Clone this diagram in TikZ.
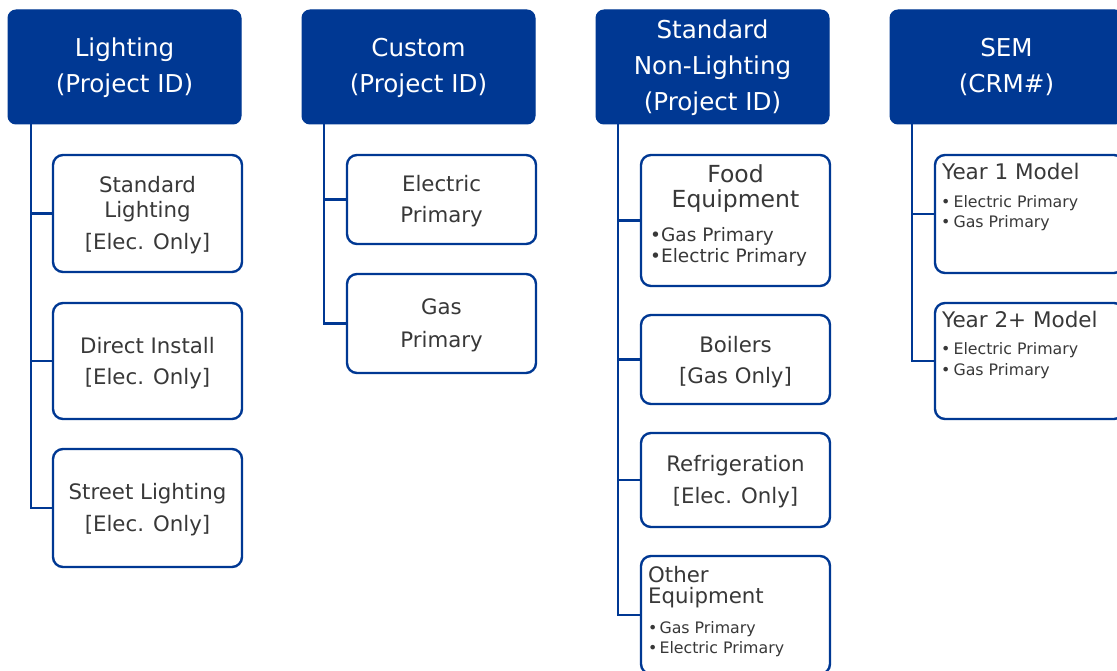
\documentclass[tikz,border=0pt]{standalone}
\usepackage{fontspec}
\setmainfont{DejaVu Sans}
\usetikzlibrary{fit}
\definecolor{navy}{HTML}{003893}
\definecolor{ink}{HTML}{383838}
\tikzset{
  hdr/.style={draw=navy, fill=navy, rounded corners=8pt, line width=1pt, inner sep=0pt},
  kid/.style={draw=navy, fill=white, rounded corners=10pt, line width=2.4pt, inner sep=0pt},
  link/.style={draw=navy, line width=2.6pt},
  ht/.style={text=white, inner sep=0pt, anchor=base, font=\fontsize{24.6}{28}\selectfont},
  ct/.style={text=ink, inner sep=0pt, anchor=base, font=\fontsize{21.3}{24}\selectfont},
  lt/.style={text=ink, inner sep=0pt, anchor=base west, font=\fontsize{21.3}{24}\selectfont},
  bigt/.style={text=ink, inner sep=0pt, anchor=base, font=\fontsize{23.5}{27}\selectfont},
  bl/.style={text=ink, inner sep=0pt, anchor=base west, font=\fontsize{18.5}{21}\selectfont},
  sbl/.style={text=ink, inner sep=0pt, anchor=base west, font=\fontsize{15.8}{18}\selectfont},
}
\begin{document}
\begin{tikzpicture}[x=1pt,y=-1pt]
\useasboundingbox (0,0) rectangle (1117,671);
\clip (0,0) rectangle (1117,671);

% trunk coordinates
\coordinate (t1) at (31,118);
\coordinate (t2) at (324,118);
\coordinate (t3) at (618,118);
\coordinate (t4) at (912,118);

% headers
\node[hdr, fit={(8,10) (241,124)}] (h1) {};
\node[hdr, fit={(302,10) (535,124)}] (h2) {};
\node[hdr, fit={(596,10) (829,124)}] (h3) {};
\node[hdr, fit={(890,10) (1123,124)}] (h4) {};

% child boxes
\node[kid, fit={(53,155) (242,272)}] (sl) {};
\node[kid, fit={(53,303) (242,419)}] (di) {};
\node[kid, fit={(53,449) (242,567)}] (st) {};
\node[kid, fit={(347,155) (536,244)}] (ep) {};
\node[kid, fit={(347,274) (536,373)}] (gp) {};
\node[kid, fit={(641,155) (830,286)}] (fe) {};
\node[kid, fit={(641,315) (830,404)}] (bo) {};
\node[kid, fit={(641,433) (830,527)}] (rf) {};
\node[kid, fit={(641,556) (830,674)}] (oe) {};
\node[kid, fit={(935,155) (1124,273)}] (y1) {};
\node[kid, fit={(935,303) (1124,419)}] (y2) {};

% connectors
\draw[link] (h1.south -| t1) |- (st.west);
\draw[link] (t1 |- sl.west) -- (sl.west);
\draw[link] (t1 |- di.west) -- (di.west);
\draw[link] (h2.south -| t2) |- (gp.west);
\draw[link] (t2 |- ep.west) -- (ep.west);
\draw[link] (h3.south -| t3) |- (oe.west);
\draw[link] (t3 |- fe.west) -- (fe.west);
\draw[link] (t3 |- bo.west) -- (bo.west);
\draw[link] (t3 |- rf.west) -- (rf.west);
\draw[link] (h4.south -| t4) |- (y2.west);
\draw[link] (t4 |- y1.west) -- (y1.west);

% header texts
\node[ht] (h1a) at (124.5,57) {Lighting};
\node[ht] (h1b) at (124.5,93) {(Project ID)};
\node[ht] (h2a) at (418.5,57) {Custom};
\node[ht] (h2b) at (418.5,93) {(Project ID)};
\node[ht] (h3a) at (712.5,39) {Standard};
\node[ht] (h3b) at (712.5,75) {Non-Lighting};
\node[ht] (h3c) at (712.5,111) {(Project ID)};
\node[ht] (h4a) at (1006.5,57) {SEM};
\node[ht] (h4b) at (1006.5,93) {(CRM\#)};

% lighting column
\node[ct] (sla) at (147.5,193) {Standard};
\node[ct] (slb) at (147.5,218) {Lighting};
\node[ct] (slc) at (147.5,250) {[Elec. Only]};
\node[ct] (dia) at (147.5,353) {Direct Install};
\node[ct] (dib) at (147.5,384) {[Elec. Only]};
\node[ct] (sta) at (147.5,499) {Street Lighting};
\node[ct] (stb) at (147.5,531) {[Elec. Only]};

% custom column
\node[ct] (epa) at (441.5,192) {Electric};
\node[ct] (epb) at (441.5,223) {Primary};
\node[ct] (gpa) at (441.5,315) {Gas};
\node[ct] (gpb) at (441.5,347) {Primary};

% standard non-lighting column
\node[bigt] (fea) at (735.5,183) {Food};
\node[bigt] (feb) at (735.5,208) {Equipment};
\node[bl] (fec) at (650,242) {•Gas Primary};
\node[bl] (fed) at (650,263) {•Electric Primary};
\node[ct] (boa) at (735.5,352) {Boilers};
\node[ct] (bob) at (735.5,383) {[Gas Only]};
\node[ct] (rfa) at (735.5,471) {Refrigeration};
\node[ct] (rfb) at (735.5,503) {[Elec. Only]};
\node[lt] (oea) at (648,582) {Other};
\node[lt] (oeb) at (648,603) {Equipment};
\node[sbl] (oec) at (648,633) {•\hspace{2pt}Gas Primary};
\node[sbl] (oed) at (648,653) {•\hspace{2pt}Electric Primary};

% SEM column
\node[lt, font=\fontsize{21.5}{25}\selectfont] (y1a) at (942,180) {Year 1 Model};
\node[sbl] (y1b) at (941,208) {•\hspace{3pt}Electric Primary};
\node[sbl] (y1c) at (941,228) {•\hspace{3pt}Gas Primary};
\node[lt, font=\fontsize{21.5}{25}\selectfont] (y2a) at (942,327) {Year 2+ Model};
\node[sbl] (y2b) at (941,354) {•\hspace{3pt}Electric Primary};
\node[sbl] (y2c) at (941,375) {•\hspace{3pt}Gas Primary};
\end{tikzpicture}
\end{document}
